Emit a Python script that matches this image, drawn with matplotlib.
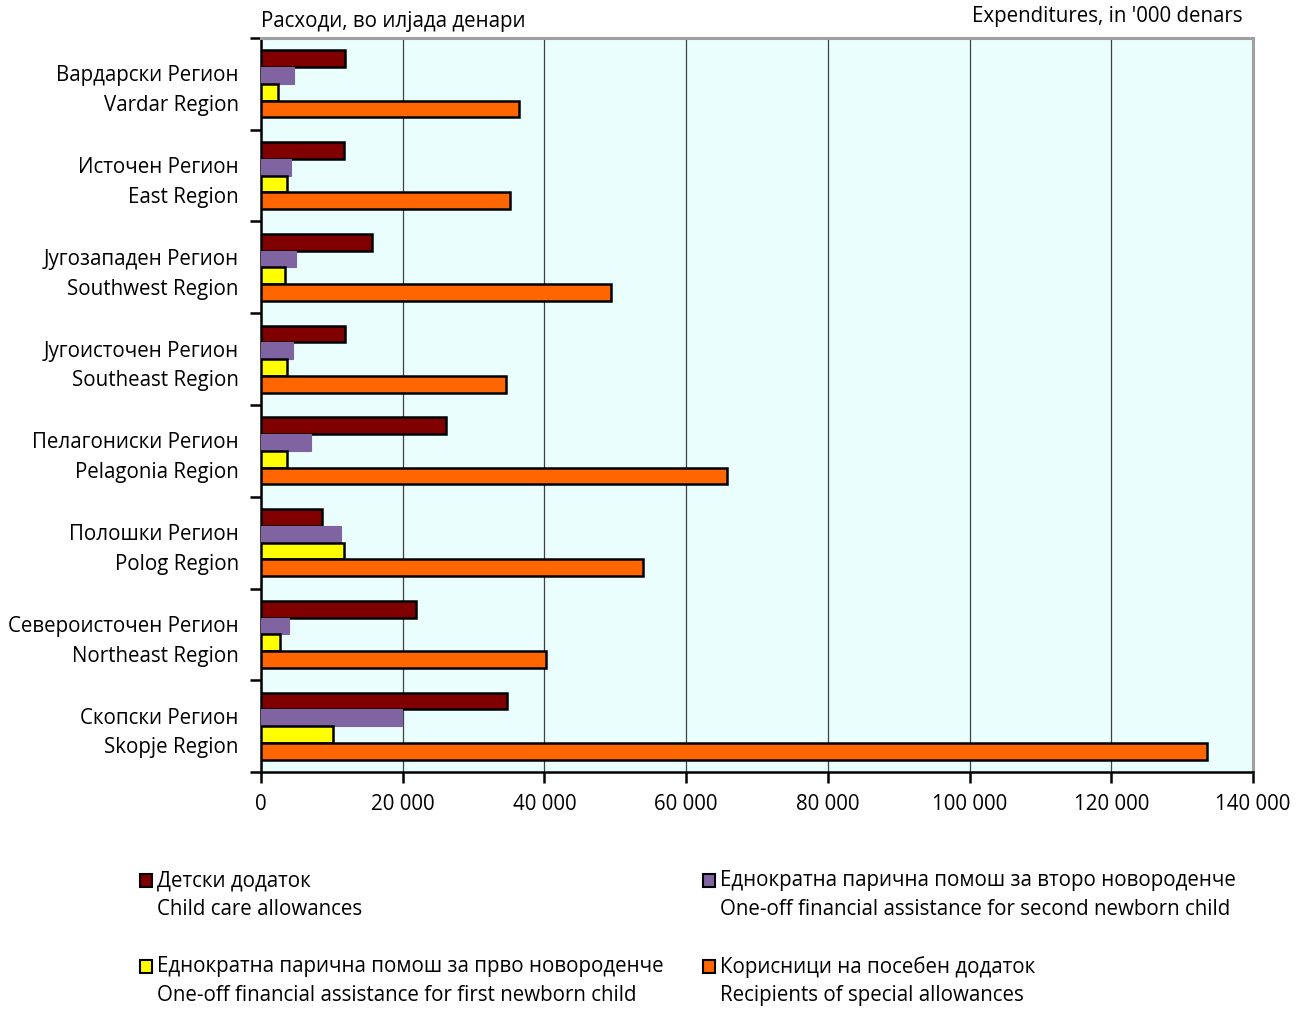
import numpy as np
import matplotlib
matplotlib.use('Agg')
from matplotlib import pyplot as plt
from matplotlib.patches import Rectangle

plt.rcParams['font.family'] = ['Open Sans', 'DejaVu Sans']

regions_mk = ['Вардарски Регион', 'Источен Регион', 'Југозападен Регион', 'Југоисточен Регион',
              'Пелагониски Регион', 'Полошки Регион', 'Североисточен Регион', 'Скопски Регион']
regions_en = ['Vardar Region', 'East Region', 'Southwest Region', 'Southeast Region',
              'Pelagonia Region', 'Polog Region', 'Northeast Region', 'Skopje Region']

child_care = [11850, 11700, 15700, 11850, 26100, 8550, 21800, 34700]
second_child = [4650, 4250, 4950, 4500, 7050, 11300, 3900, 19950]
first_child = [2400, 3650, 3400, 3650, 3600, 11750, 2650, 10150]
special = [36400, 35150, 49400, 34600, 65750, 53900, 40250, 133500]

series_mk = ['Детски додаток', 'Еднократна парична помош за второ новороденче',
             'Еднократна парична помош за прво новороденче', 'Корисници на посебен додаток']
series_en = ['Child care allowances', 'One-off financial assistance for second newborn child',
             'One-off financial assistance for first newborn child', 'Recipients of special allowances']
colors = ['#800000', '#8064A2', '#FFFF00', '#FF6600']
edges = ['black', '#8064A2', 'black', 'black']

xticks = [0, 20000, 40000, 60000, 80000, 100000, 120000, 140000]

fs = 14.8

fig = plt.figure(figsize=(13.04, 10.1), dpi=100)
ax = fig.add_axes([0.2002, 0.2356, 0.7607, 0.7268])
ax.set_facecolor('#EAFEFE')

n = len(regions_en)
y = np.arange(n) + 0.5
h = 0.182
values = [child_care, second_child, first_child, special]
for k, vals in enumerate(values):
    ax.barh(y + (k - 1.5) * h, vals, height=h, color=colors[k],
            edgecolor=edges[k], linewidth=1.8 if k != 1 else 0.8, zorder=3)

ax.set_ylim(n, 0)
ax.set_xlim(0, 140000)
ax.set_xticks(xticks)
ax.set_xticklabels([f'{v:,}'.replace(',', ' ') for v in xticks], fontsize=fs)
ax.set_yticks(y)
ax.set_yticklabels([f'{a}\n{b}' for a, b in zip(regions_mk, regions_en)],
                   fontsize=fs, linespacing=1.55)
ax.set_yticks(np.arange(n + 1), minor=True)
ax.tick_params(axis='y', which='major', length=0, pad=16)
ax.tick_params(axis='y', which='minor', length=8, width=1.8, direction='out')
ax.tick_params(axis='x', length=8, width=1.8, direction='out', pad=8)

ax.grid(axis='x', color='#404040', linewidth=0.9, zorder=1)
for s in ['left', 'bottom']:
    ax.spines[s].set_linewidth(1.8)
for s in ['top', 'right']:
    ax.spines[s].set_color('#A0A0A0')
    ax.spines[s].set_linewidth(2.2)

fig.text(0.2002, 0.979, 'Расходи, во илјада денари', fontsize=fs, ha='left', va='center')
fig.text(0.953, 0.984, "Expenditures, in '000 denars", fontsize=fs, ha='right', va='center')

# legend, two columns
order = [0, 2, 1, 3]
pos = [(0.107, 0.128), (0.107, 0.043), (0.539, 0.128), (0.539, 0.043)]
for k, (px, py) in zip(order, pos):
    fig.patches.append(Rectangle((px, py - 0.006), 0.0095, 0.0125, transform=fig.transFigure,
                                 facecolor=colors[k], edgecolor='black', linewidth=1.5))
    fig.text(px + 0.0135, py, series_mk[k], fontsize=fs, ha='left', va='center')
    fig.text(px + 0.0135, py - 0.0285, series_en[k], fontsize=fs, ha='left', va='center')

fig.savefig('out.png', dpi=100)
